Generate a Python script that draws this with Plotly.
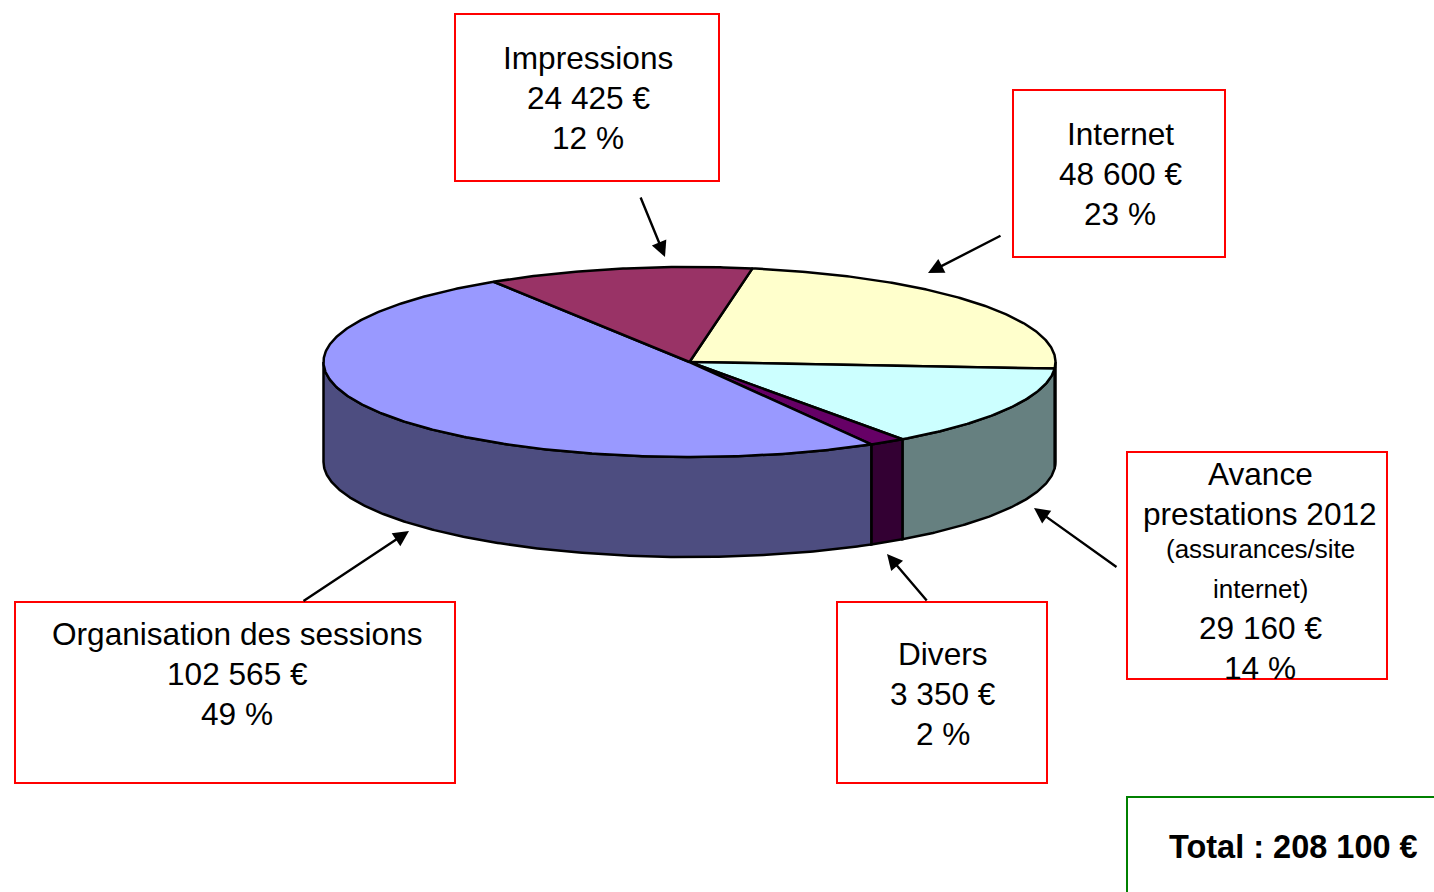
import numpy as np
import plotly.graph_objects as go

# --- data (clockwise from the top of the pie) ---
categories = ["Internet", "Avance prestations 2012", "Divers", "Organisation des sessions", "Impressions"]
values = [48600, 29160, 3350, 102565, 24425]
top_colors = ["#FFFFCC", "#CCFFFF", "#660066", "#9999FF", "#993366"]
side_colors = ["#808066", "#668080", "#330033", "#4D4D80", "#4D1A33"]

impressions_lines = ["Impressions", "24 425 €", "12 %"]
internet_lines = ["Internet", "48 600 €", "23 %"]
avance_lines = ["Avance", "prestations 2012", "(assurances/site", "internet)", "29 160 €", "14 %"]
divers_lines = ["Divers", "3 350 €", "2 %"]
organisation_lines = ["Organisation des sessions", "102 565 €", "49 %"]
total_line = "Total : 208 100 €"

W, H = 1434, 892
CX, CY, RX, RY, DEPTH = 689.5, 362, 366, 95, 100
START = 9.9
FONT = "Liberation Sans, Arial, sans-serif"


def arc(a, b, dy=0.0):
    t = np.radians(np.linspace(a, b, max(int(abs(b - a) * 2), 2)))
    return CX + RX * np.sin(t), CY - RY * np.cos(t) + dy


fig = go.Figure()
share = np.array(values) / sum(values) * 360
edges = START + np.concatenate([[0], np.cumsum(share)])


def poly(x, y, color, name):
    fig.add_trace(go.Scatter(
        x=np.append(x, x[0]), y=np.append(y, y[0]), mode="lines", fill="toself",
        fillcolor=color, line=dict(color="black", width=2.5), name=name,
        hoverinfo="name", showlegend=False))


# side wall: only the front half of the ellipse (90 to 270 degrees) is visible
for i, cat in enumerate(categories):
    a, b = max(edges[i], 90), min(edges[i + 1], 270)
    if a < b:
        x1, y1 = arc(a, b)
        x2, y2 = arc(b, a, DEPTH)
        poly(np.concatenate([x1, x2]), np.concatenate([y1, y2]), side_colors[i], cat)

# top face
for i, cat in enumerate(categories):
    x, y = arc(edges[i], edges[i + 1])
    poly(np.concatenate([[CX], x]), np.concatenate([[CY], y]), top_colors[i], cat)

RED, GREEN = "#FF0000", "#008000"
boxes = [
    (455, 14, 719, 181, RED), (1013, 90, 1225, 257, RED), (1127, 452, 1387, 679, RED),
    (837, 602, 1047, 783, RED), (15, 602, 455, 783, RED), (1127, 797, 1440, 900, GREEN),
]
shapes = [dict(type="rect", xref="x", yref="y", x0=a, y0=b, x1=c, y1=d,
               line=dict(color=col, width=2), fillcolor="rgba(0,0,0,0)") for a, b, c, d, col in boxes]

annotations = []


def label(lines, x, ys, sizes=None):
    for j, (txt, y) in enumerate(zip(lines, ys)):
        annotations.append(dict(x=x, y=y, xref="x", yref="y", text=txt, showarrow=False,
                                xanchor="center", yanchor="middle",
                                font=dict(family=FONT, size=(sizes[j] if sizes else 31.6), color="black")))


label(impressions_lines, 588, [58, 98, 138])
label(internet_lines, 1120, [134, 174, 214])
label(avance_lines, 1260, [474, 514, 549, 589, 628, 668], [31.6, 31.6, 26, 26, 31.6, 31.6])
label(divers_lines, 943, [654, 694, 734])
label(organisation_lines, 237, [634, 674, 714])
annotations.append(dict(x=1293, y=847, xref="x", yref="y", text="<b>%s</b>" % total_line, showarrow=False,
                        xanchor="center", yanchor="middle", font=dict(family=FONT, size=32.5, color="black")))

arrows = [(640, 196, 665, 257), (1002, 235, 928, 273), (1118, 568, 1034, 508),
          (928, 602, 887, 554), (302, 602, 409, 531)]
for x0, y0, x1, y1 in arrows:
    annotations.append(dict(x=x1, y=y1, ax=x0, ay=y0, xref="x", yref="y", axref="x", ayref="y",
                            text="", showarrow=True, arrowhead=2, arrowsize=1.3, arrowwidth=2.4,
                            arrowcolor="black", standoff=0, startstandoff=0))

fig.update_layout(
    width=W, height=H, autosize=False, margin=dict(l=0, r=0, t=0, b=0),
    paper_bgcolor="white", plot_bgcolor="white", showlegend=False,
    xaxis=dict(range=[0, W], visible=False, fixedrange=True),
    yaxis=dict(range=[H, 0], visible=False, fixedrange=True),
    shapes=shapes, annotations=annotations,
)
fig.write_html("out.html", config=dict(displayModeBar=False),
               post_script="document.body.style.margin='0';document.body.style.overflow='hidden';")
